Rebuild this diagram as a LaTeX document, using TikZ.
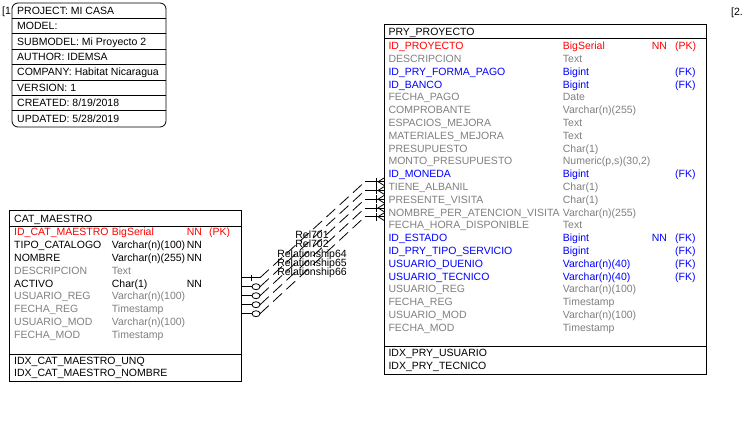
\documentclass[tikz,border=0pt]{standalone}
\usepackage{fontspec}
\setmainfont{Liberation Sans}
\usetikzlibrary{calc}
\definecolor{PKRed}{HTML}{FF0000}
\definecolor{FKBlue}{HTML}{0000FF}
\definecolor{OptGray}{HTML}{808080}
\tikzset{
  tbl/.style={draw=black, line width=0.8pt, fill=white, inner sep=0pt, outer sep=0pt, anchor=north west},
  fld/.style={font=\fontsize{10.5}{12}\selectfont, inner sep=0pt, anchor=base west},
  lbl/.style={font=\fontsize{10.5}{12}\selectfont, inner sep=0pt, anchor=base},
  sep/.style={draw=black, line width=0.8pt},
  rel/.style={draw=black, line width=0.8pt},
  reldash/.style={draw=black, line width=0.8pt, dash pattern=on 12pt off 6pt}
}
\begin{document}
\begin{tikzpicture}[x=1pt, y=-1pt]
\useasboundingbox (0,0) rectangle (744,421);
% page markers
\node[fld] (mk1) at (2,14.3) {[1};
\node[fld] (mk2) at (731,15.5) {[2.};
% model info
\node[tbl, rounded corners=6pt, minimum width=154, minimum height=124] (info) at (12,3) {};
\foreach \y in {18.4,33.8,49.2,64.6,80,95.4,110.8}
  \draw[sep] (info.west |- 0,\y) -- (info.east |- 0,\y);
\foreach \t [count=\i from 0] in {PROJECT: MI CASA, MODEL:, SUBMODEL: Mi Proyecto 2, AUTHOR: IDEMSA, COMPANY: Habitat Nicaragua, VERSION: 1, CREATED: 8/19/2018, UPDATED: 5/28/2019}
  \node[fld] (info\i) at (17,14.3+15.4*\i) {\t};
% CAT_MAESTRO
\node[tbl, minimum width=232, minimum height=171] (cat) at (9.5,210.5) {};
\node[fld] (cat-h) at (14,222.6) {CAT\_MAESTRO};
\draw[sep] (cat.west |- 0,226.5) -- (cat.east |- 0,226.5);
\draw[sep] (cat.west |- 0,354) -- (cat.east |- 0,354);
\foreach \nm/\ty/\nn/\key/\cl [count=\i from 0] in {
    ID\_CAT\_MAESTRO/BigSerial/NN/{(PK)}/PKRed,
    TIPO\_CATALOGO/{Varchar(n)(100)}/NN//black,
    NOMBRE/{Varchar(n)(255)}/NN//black,
    DESCRIPCION/Text///OptGray,
    ACTIVO/{Char(1)}/NN//black,
    USUARIO\_REG/{Varchar(n)(100)}///OptGray,
    FECHA\_REG/Timestamp///OptGray,
    USUARIO\_MOD/{Varchar(n)(100)}///OptGray,
    FECHA\_MOD/Timestamp///OptGray}{
  \node[fld, text=\cl] (cat-n\i) at (14,235.9+12.8*\i) {\nm};
  \node[fld, text=\cl] (cat-t\i) at (111.7,235.9+12.8*\i) {\ty};
  \node[fld, text=\cl] (cat-m\i) at (186.7,235.9+12.8*\i) {\nn};
  \node[fld, text=\cl] (cat-k\i) at (209,235.9+12.8*\i) {\key};
}
\node[fld] (cat-x0) at (14,364.9) {IDX\_CAT\_MAESTRO\_UNQ};
\node[fld] (cat-x1) at (14,376.9) {IDX\_CAT\_MAESTRO\_NOMBRE};
% PRY_PROYECTO
\node[tbl, minimum width=321.5, minimum height=349.7] (pry) at (384.5,24.3) {};
\node[fld] (pry-h) at (388.3,35.3) {PRY\_PROYECTO};
\draw[sep] (pry.west |- 0,38.5) -- (pry.east |- 0,38.5);
\draw[sep] (pry.west |- 0,346.7) -- (pry.east |- 0,346.7);
\foreach \nm/\ty/\nn/\key/\cl [count=\i from 0] in {
    ID\_PROYECTO/BigSerial/NN/{(PK)}/PKRed,
    DESCRIPCION/Text///OptGray,
    ID\_PRY\_FORMA\_PAGO/Bigint//{(FK)}/FKBlue,
    ID\_BANCO/Bigint//{(FK)}/FKBlue,
    FECHA\_PAGO/Date///OptGray,
    COMPROBANTE/{Varchar(n)(255)}///OptGray,
    ESPACIOS\_MEJORA/Text///OptGray,
    MATERIALES\_MEJORA/Text///OptGray,
    PRESUPUESTO/{Char(1)}///OptGray,
    MONTO\_PRESUPUESTO/{Numeric(p,s)(30,2)}///OptGray,
    ID\_MONEDA/Bigint//{(FK)}/FKBlue,
    TIENE\_ALBANIL/{Char(1)}///OptGray,
    PRESENTE\_VISITA/{Char(1)}///OptGray,
    NOMBRE\_PER\_ATENCION\_VISITA/{Varchar(n)(255)}///OptGray,
    FECHA\_HORA\_DISPONIBLE/Text///OptGray,
    ID\_ESTADO/Bigint/NN/{(FK)}/FKBlue,
    ID\_PRY\_TIPO\_SERVICIO/Bigint//{(FK)}/FKBlue,
    USUARIO\_DUENIO/{Varchar(n)(40)}//{(FK)}/FKBlue,
    USUARIO\_TECNICO/{Varchar(n)(40)}//{(FK)}/FKBlue,
    USUARIO\_REG/{Varchar(n)(100)}///OptGray,
    FECHA\_REG/Timestamp///OptGray,
    USUARIO\_MOD/{Varchar(n)(100)}///OptGray,
    FECHA\_MOD/Timestamp///OptGray}{
  \node[fld, text=\cl] (pry-n\i) at (388.3,49.6+12.8*\i) {\nm};
  \node[fld, text=\cl] (pry-t\i) at (562.7,49.6+12.8*\i) {\ty};
  \node[fld, text=\cl] (pry-m\i) at (651.7,49.6+12.8*\i) {\nn};
  \node[fld, text=\cl] (pry-k\i) at (675,49.6+12.8*\i) {\key};
}
\node[fld] (pry-x0) at (388.3,356.3) {IDX\_PRY\_USUARIO};
\node[fld] (pry-x1) at (388.3,369.3) {IDX\_PRY\_TECNICO};
% relationships
\foreach \k in {0,...,4}{
  \coordinate (ca\k) at ($(cat.north east)+(0,67.2+9*\k)$);
  \coordinate (cb\k) at ($(ca\k)+(18.5,0)$);
  \coordinate (pa\k) at ($(pry.north west)+(0,157.4+8.75*\k)$);
  \coordinate (pb\k) at ($(pa\k)+(-19.5,0)$);
  \draw[reldash] (cb\k) -- (pb\k);
  \draw[rel] (pb\k) -- (pa\k);
  \draw[rel] ($(pa\k)+(-8.5,-4)$) -- ++(0,8);
  \draw[rel] (pa\k) ++(0,-4) -- ++(-6.5,4) -- ++(6.5,4);
}
\draw[rel] (ca0) -- (cb0);
\draw[rel] ($(ca0)+(10,-3)$) -- ++(0,6);
\foreach \k in {1,...,4}{
  \draw[rel] (ca\k) -- ++(10.5,0);
  \draw[rel, fill=white] ($(cb\k)+(-4,0)$) ellipse (4 and 3);
}
\foreach \t [count=\j from 0] in {Rel701, Rel702, Relationship64, Relationship65, Relationship66}
  \node[lbl] (rl\j) at (312,238.6+9.3*\j) {\t};
\end{tikzpicture}
\end{document}
